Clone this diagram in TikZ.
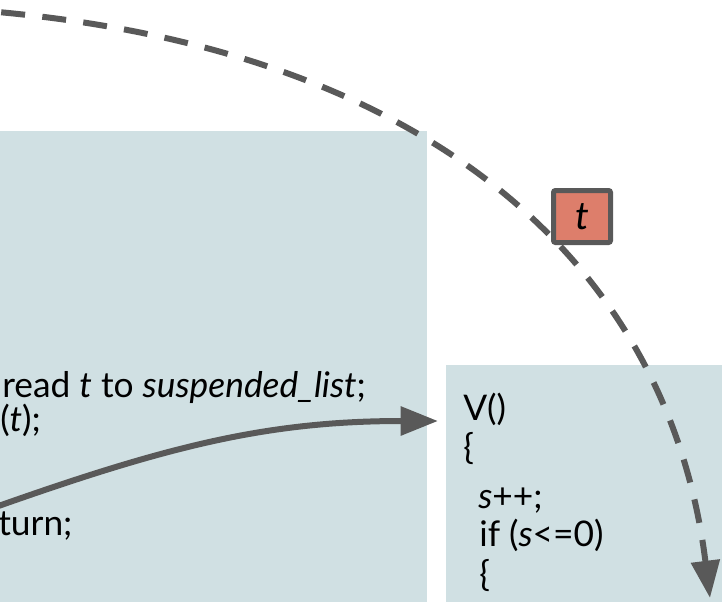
\documentclass[tikz,border=0pt]{standalone}
\usepackage{fontspec}
\setmainfont{Lato}
\usetikzlibrary{arrows.meta}
\definecolor{cpanel}{HTML}{D0E0E3}
\definecolor{cthread}{HTML}{DD7E6B}
\definecolor{cline}{HTML}{595959}
\tikzset{slide/.style={x=0.75pt,y=-0.75pt,font=\fontsize{26.5}{30}\selectfont},
  code/.style={anchor=base west,inner sep=0pt},
  flow/.style={cline,line width=4.5pt,-{Triangle[length=28pt,width=21pt]}},
  tok/.style={draw=cline,fill=cthread,line width=3.75pt,rounded corners=1.5pt,
    minimum width=42.75pt,minimum height=39pt,inner sep=0pt,font=\fontsize{29}{30}\selectfont}}

\begin{document}
\begin{tikzpicture}[slide]
  \useasboundingbox (0,0) rectangle (722,601);
  \clip (0,0) rectangle (722,601);
  \fill[cpanel] (-10,131) rectangle (427,610);
  \fill[cpanel] (446,365) rectangle (730,610);
  \coordinate (wake) at (-40,9);
  \coordinate (ready) at (710,598);
  \coordinate (call) at (-10,509);
  \coordinate (vin) at (438,421);
  \draw[flow,dash pattern=on 18pt off 13pt] (wake) .. controls (425,40) and (668,262) .. (ready);
  \draw[flow] (call) .. controls (165,447) and (265,421) .. (vin);
  \node[tok] (thr) at (582,216.5) {\textit{t}};
  \node[code] (addt) at (2,397) {read \textit{t} to \textit{suspended\_list};};
  \node[code] (blkt) at (0,431) {(\textit{t});};
  \node[code] (ret) at (-2,535) {turn;};
  \node[code] (vhead) at (463,420) {V()};
  \node[code] (vopen) at (463,459) {\{};
  \node[code] (vinc) at (478,508) {\textit{s}++;};
  \node[code] (vif) at (479,546) {if (\textit{s}<=0)};
  \node[code] (vblk) at (479,586) {\{};
\end{tikzpicture}
\end{document}
